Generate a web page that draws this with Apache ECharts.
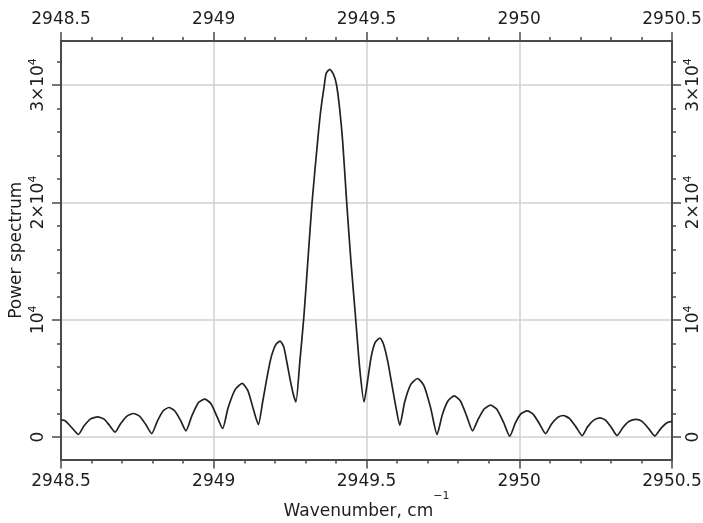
<!DOCTYPE html>
<html><head><meta charset="utf-8">
<script src="https://cdn.jsdelivr.net/npm/echarts@6/dist/echarts.min.js"></script>
<style>html,body{margin:0;padding:0;background:#fff}#c{width:703px;height:523px}</style>
</head><body><div id="c"></div>
<script>
// ---- data ----
const wavenumber = [
  2948.500, 2948.512, 2948.526, 2948.541, 2948.557, 2948.575, 2948.597, 2948.620, 2948.641, 2948.659,
  2948.677, 2948.695, 2948.716, 2948.737, 2948.757, 2948.777, 2948.797, 2948.815, 2948.834, 2948.853,
  2948.872, 2948.891, 2948.909, 2948.928, 2948.950, 2948.971, 2948.991, 2949.010, 2949.029, 2949.047,
  2949.070, 2949.093, 2949.112, 2949.130, 2949.146, 2949.160, 2949.173, 2949.185, 2949.195, 2949.205,
  2949.217, 2949.229, 2949.240, 2949.250, 2949.260, 2949.269, 2949.282, 2949.295, 2949.308, 2949.322,
  2949.341, 2949.351, 2949.362, 2949.368, 2949.380, 2949.392, 2949.402, 2949.412, 2949.422, 2949.435,
  2949.449, 2949.464, 2949.478, 2949.492, 2949.503, 2949.515, 2949.528, 2949.544, 2949.556, 2949.570,
  2949.583, 2949.596, 2949.609, 2949.625, 2949.645, 2949.667, 2949.688, 2949.710, 2949.731, 2949.748,
  2949.767, 2949.787, 2949.807, 2949.828, 2949.847, 2949.865, 2949.885, 2949.906, 2949.926, 2949.948,
  2949.969, 2949.987, 2950.006, 2950.026, 2950.046, 2950.066, 2950.086, 2950.105, 2950.124, 2950.144,
  2950.164, 2950.185, 2950.206, 2950.224, 2950.244, 2950.264, 2950.282, 2950.301, 2950.320, 2950.340,
  2950.360, 2950.382, 2950.402, 2950.423, 2950.444, 2950.465, 2950.485, 2950.500
];
const power = [
  1480, 1420, 1080, 640, 230, 950, 1560, 1730, 1540, 1000,
  430, 1150, 1800, 2020, 1790, 1100, 310, 1350, 2230, 2530,
  2250, 1450, 540, 1800, 2950, 3240, 2850, 1800, 740, 2500,
  4050, 4580, 3950, 2350, 1080, 3000, 4900, 6500, 7400, 7950,
  8180, 7700, 6300, 4900, 3700, 3000, 6500, 10260, 15000, 20060,
  25500, 28000, 30000, 31000, 31340, 30900, 30000, 28000, 25200, 20060,
  15000, 10260, 5800, 3010, 4700, 6800, 8050, 8450, 7900, 6400,
  4500, 2600, 1020, 3000, 4500, 5000, 4400, 2500, 230, 1900,
  3100, 3520, 3100, 1800, 540, 1500, 2400, 2730, 2400, 1300,
  85, 1200, 2000, 2240, 1950, 1150, 310, 1100, 1650, 1850,
  1600, 900, 140, 900, 1450, 1650, 1450, 850, 140, 850,
  1350, 1510, 1350, 750, 110, 800, 1250, 1350
];
const xTickValues = [2948.5, 2949, 2949.5, 2950, 2950.5];
const xTickLabels = ['2948.5', '2949', '2949.5', '2950', '2950.5'];
const yMajorValues = [0, 10000, 20000, 30000];
const yMajorLabels = ['{n|0}', '{n|10}{s|4}', '{n|2×10}{s|4}', '{n|3×10}{s|4}'];
const yMinorValues = [2000, 4000, 6000, 8000, 12000, 14000, 16000, 18000, 22000, 24000, 26000, 28000, 32000];
const xTitle = '{n|Wavenumber, cm}{s|−1}';
const yTitle = 'Power spectrum';

// ---- styling ----
const FONT = 'DejaVu Sans';
const FS = 17;
const TXT = '#1e1e1e';
const axisLineStyle = { color: '#4a4a4a', width: 2 };
const tickStyle = { color: '#4a4a4a', width: 1.5 };
const gridLineStyle = { color: '#d0d0d0', width: 1.5 };
const labelRich = {
  n: { fontFamily: FONT, fontSize: FS, color: TXT, lineHeight: 22, verticalAlign: 'middle' },
  s: { fontFamily: FONT, fontSize: 11, color: TXT, verticalAlign: 'top' }
};
const X_MIN = 2948.5, X_MAX = 2950.5, Y_MIN = -1900, Y_MAX = 33750;

function xLabel(v) {
  const i = xTickValues.findIndex(t => Math.abs(t - v) < 1e-6);
  return i >= 0 ? xTickLabels[i] : '';
}
function yLabel(v) {
  const i = yMajorValues.findIndex(t => Math.abs(t - v) < 1e-6);
  return i >= 0 ? yMajorLabels[i] : '';
}

function xAxisDef(pos, withGrid, withName) {
  const a = {
    type: 'value', position: pos, min: X_MIN, max: X_MAX, interval: 0.5,
    axisLine: { show: true, onZero: false, lineStyle: axisLineStyle },
    axisTick: { show: true, length: 9, lineStyle: tickStyle },
    minorTick: { show: true, splitNumber: 5, length: 4, lineStyle: tickStyle },
    axisLabel: { show: true, margin: pos === 'bottom' ? 14 : 13, fontFamily: FONT, fontSize: FS, color: TXT, formatter: xLabel },
    splitLine: { show: withGrid, lineStyle: gridLineStyle },
    minorSplitLine: { show: false }
  };
  if (withName) {
    a.name = xTitle;
    a.nameLocation = 'middle';
    a.nameGap = 31;
    a.nameMoveOverlap = false;
    a.nameTextStyle = {
      rich: {
        n: { fontFamily: FONT, fontSize: FS, color: TXT, lineHeight: 42, verticalAlign: 'middle' },
        s: { fontFamily: FONT, fontSize: 11, color: TXT, verticalAlign: 'top' }
      }
    };
  }
  return a;
}

function yMajorDef(pos, withGrid, withName) {
  const a = {
    type: 'value', position: pos, min: Y_MIN, max: Y_MAX, offset: 0,
    axisLine: { show: true, onZero: false, lineStyle: axisLineStyle },
    axisTick: { show: true, length: 9, lineStyle: tickStyle, customValues: yMajorValues },
    axisLabel: { show: true, rotate: 90, margin: 11, customValues: yMajorValues, formatter: yLabel, rich: labelRich },
    splitLine: { show: withGrid, lineStyle: gridLineStyle }
  };
  if (withName) {
    a.name = yTitle;
    a.nameLocation = 'middle';
    a.nameRotate = 90;
    a.nameGap = 35;
    a.nameMoveOverlap = false;
    a.nameTextStyle = { fontFamily: FONT, fontSize: FS, color: TXT, lineHeight: 18 };
  }
  return a;
}
function yMinorDef(pos) {
  return {
    type: 'value', position: pos, min: Y_MIN, max: Y_MAX, offset: 0,
    axisLine: { show: false, onZero: false },
    axisTick: { show: true, length: 4, lineStyle: tickStyle, customValues: yMinorValues },
    axisLabel: { show: false },
    splitLine: { show: false }
  };
}

const chart = echarts.init(document.getElementById('c'), null, { renderer: 'canvas' });
chart.setOption({
  animation: false,
  backgroundColor: '#ffffff',
  grid: { left: 61, right: 31, top: 41, bottom: 63.5, containLabel: false, outerBoundsMode: 'none' },
  xAxis: [xAxisDef('bottom', true, true), xAxisDef('top', false, false)],
  yAxis: [yMajorDef('left', true, true), yMinorDef('left'), yMajorDef('right', false, false), yMinorDef('right')],
  series: [{
    type: 'line',
    xAxisIndex: 0, yAxisIndex: 0,
    data: wavenumber.map((x, i) => [x, power[i]]),
    showSymbol: false, symbol: 'none',
    smooth: 0.2,
    lineStyle: { color: '#222222', width: 1.7 },
    z: 3
  }]
});
</script>
</body></html>
